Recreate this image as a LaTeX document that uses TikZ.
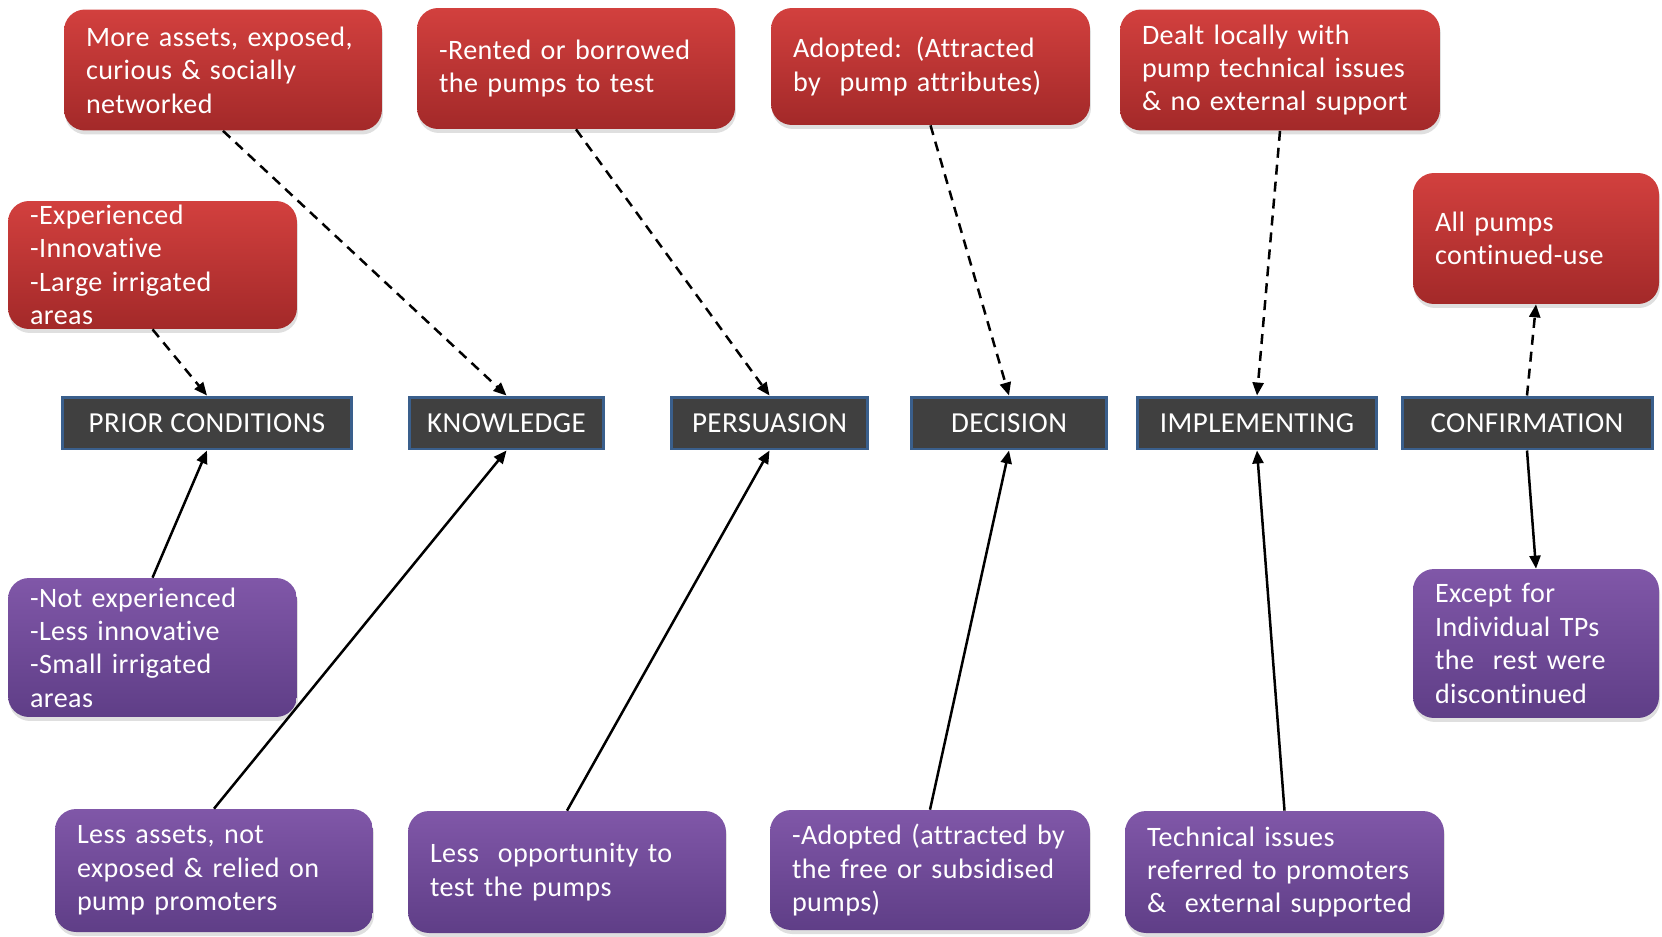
\documentclass[tikz,border=0pt]{standalone}
\usepackage{fontspec}
\setmainfont{Carlito}[Ligatures={NoCommon}, LetterSpace=1.5]
\usetikzlibrary{arrows.meta,shadows}
\definecolor{redtop}{RGB}{210,64,62}
\definecolor{redbot}{RGB}{163,41,41}
\definecolor{purptop}{RGB}{128,87,168}
\definecolor{purpbot}{RGB}{95,62,135}
\definecolor{stagefill}{RGB}{64,64,64}
\definecolor{stageline}{RGB}{58,95,140}
\begin{document}
\begin{tikzpicture}[
    x=0.02cm, y=-0.02cm,
    every node/.style={font=\fontsize{16}{19}\selectfont},
    note/.style={
        rounded corners=0.42cm,
        text=white,
        align=left,
        inner xsep=0.44cm,
        inner ysep=1pt,
        drop shadow={opacity=0.25,shadow xshift=0.02cm,shadow yshift=-0.08cm}
    },
    redbox/.style={note, top color=redtop, bottom color=redbot},
    purplebox/.style={note, top color=purptop, bottom color=purpbot},
    stage/.style={
        draw=stageline,
        line width=0.06cm,
        fill=stagefill,
        text=white,
        minimum height=1.04cm,
        inner sep=0pt,
        font=\fontsize{16.5}{19}\selectfont
    },
    dashedarrow/.style={-{Triangle[length=0.26cm,width=0.22cm]}, line width=0.05cm, dash pattern=on 0.2cm off 0.14cm},
    solidarrow/.style={-{Triangle[length=0.26cm,width=0.22cm]}, line width=0.05cm}
]
\useasboundingbox (0,0) rectangle (1662,936);

% stages
\node[stage, minimum width=5.8cm] (prior) at (207,423) {PRIOR CONDITIONS};
\node[stage, minimum width=3.9cm] (knowledge) at (506.5,423) {KNOWLEDGE};
\node[stage, minimum width=3.94cm] (persuasion) at (769.5,423) {PERSUASION};
\node[stage, minimum width=3.92cm] (decision) at (1009,423) {DECISION};
\node[stage, minimum width=4.8cm] (implementing) at (1257,423) {IMPLEMENTING};
\node[stage, minimum width=5cm] (confirmation) at (1527,423) {CONFIRMATION};

% adopters (top)
\node[redbox, text width=5.48cm, minimum height=2.42cm] (moreassets) at (223,70)
{More assets, exposed,\\curious \& socially\\networked};
\node[redbox, text width=5.48cm, minimum height=2.42cm] (rented) at (576,68.5)
{-Rented or borrowed\\the pumps to test};
\node[redbox, text width=5.5cm, minimum height=2.34cm] (attracted) at (930.5,66.5)
{Adopted: (Attracted\\by~ pump attributes)};
\node[redbox, text width=5.52cm, minimum height=2.42cm] (dealt) at (1280,70)
{Dealt locally with\\pump technical issues\\\& no external support};
\node[redbox, text width=4.9cm, minimum height=2.56cm] (experienced) at (152.5,265)
{-Experienced\\-Innovative\\-Large irrigated\\areas};
\node[redbox, text width=4.04cm, minimum height=2.62cm] (allpumps) at (1536,238.5)
{All pumps\\continued-use};

% non-adopters (bottom)
\node[purplebox, text width=4.9cm, minimum height=2.78cm] (notexp) at (152.5,647.5)
{-Not experienced\\-Less innovative\\-Small irrigated\\areas};
\node[purplebox, text width=5.48cm, minimum height=2.46cm] (lessassets) at (214,870.5)
{Less assets, not\\exposed \& relied on\\pump promoters};
\node[purplebox, text width=5.48cm, minimum height=2.44cm] (lessopp) at (567,872)
{Less~ opportunity to\\test the pumps};
\node[purplebox, text width=5.52cm, minimum height=2.4cm] (subsidised) at (930,870)
{-Adopted (attracted by\\the free or subsidised\\pumps)};
\node[purplebox, text width=5.5cm, minimum height=2.44cm] (technical) at (1284.5,872)
{Technical issues\\referred to promoters\\\&~ external supported};
\node[purplebox, text width=4.04cm, minimum height=2.98cm] (except) at (1536,643.5)
{Except for\\Individual TPs\\the~ rest were\\discontinued};

% connectors
\draw[dashedarrow] (experienced.south) -- (prior.north);
\draw[dashedarrow] (moreassets.south) -- (knowledge.north);
\draw[dashedarrow] (rented.south) -- (persuasion.north);
\draw[dashedarrow] (attracted.south) -- (decision.north);
\draw[dashedarrow] (dealt.south) -- (implementing.north);
\draw[dashedarrow] (confirmation.north) -- (allpumps.south);
\draw[solidarrow] (notexp.north) -- (prior.south);
\draw[solidarrow] (lessassets.north) -- (knowledge.south);
\draw[solidarrow] (lessopp.north) -- (persuasion.south);
\draw[solidarrow] (subsidised.north) -- (decision.south);
\draw[solidarrow] (technical.north) -- (implementing.south);
\draw[solidarrow] (confirmation.south) -- (except.north);
\end{tikzpicture}
\end{document}
